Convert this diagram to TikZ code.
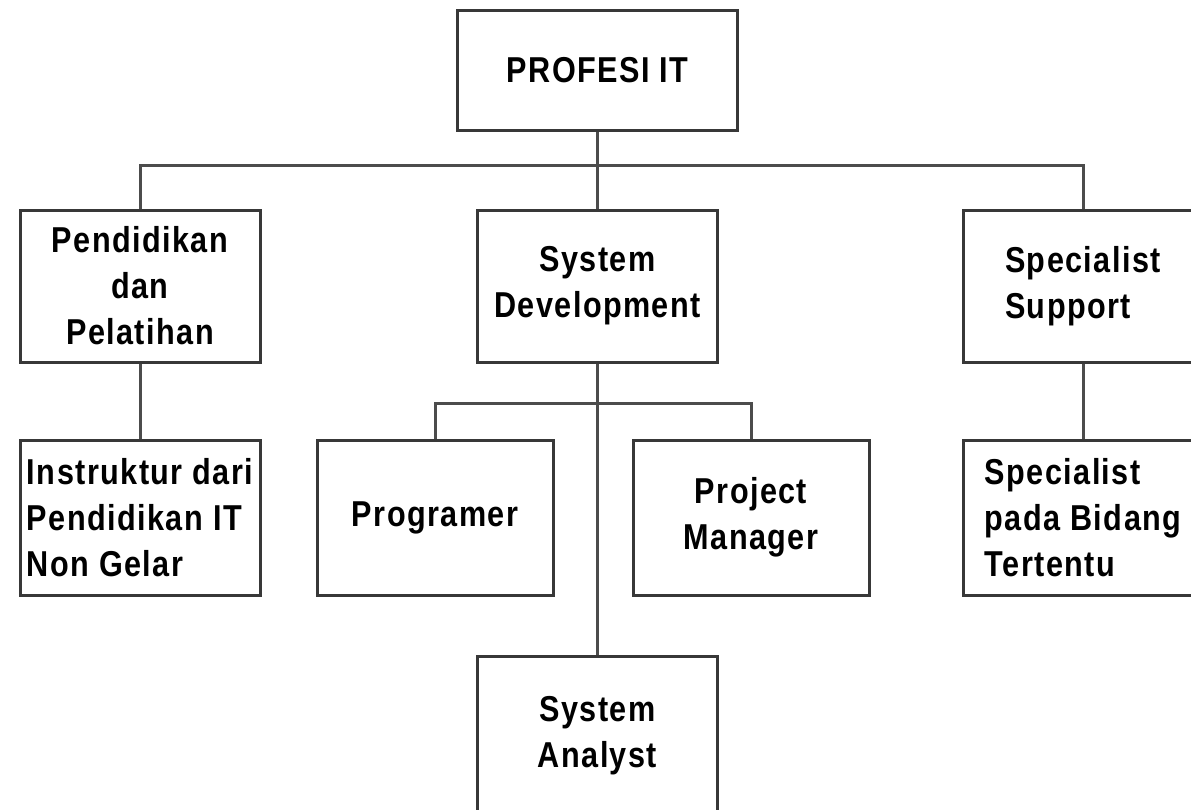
\documentclass[tikz,border=0pt]{standalone}
\usepackage{fontspec}
\setmainfont{Liberation Sans}[FakeStretch=0.85,LetterSpace=4]

\begin{document}
\begin{tikzpicture}[x=0.5pt,y=-0.5pt,line width=1.5pt]
    %
    % `unit' is used for the boxes of the chart.
    % `link' is used for the lines between them.
    \tikzstyle{unit} = [draw=black!78,fill=white,minimum width=120pt,minimum height=76pt,inner sep=2pt,font=\fontsize{18}{23}\selectfont\bfseries,align=center]
    \tikzstyle{link} = [draw=black!70]
    %
    \useasboundingbox (0,0) rectangle (1191,810);
    %
    % Top
    \node[unit,minimum width=140pt,minimum height=60pt] (profesi) at (597.5,70) {PROFESI IT};
    %
    % Row 1
    \node[unit] (pendidikan) at (140,286) {Pendidikan\\dan\\Pelatihan};
    \node[unit] (sysdev) at (597.5,286) {System\\Development};
    \node[unit,align=left] (specsup) at (1083,286) {Specialist\\Support};
    %
    % Row 2
    \node[unit,minimum height=77.5pt,align=left] (instruktur) at (140,517.5) {Instruktur dari\\Pendidikan IT\\Non Gelar};
    \node[unit,minimum width=118pt,minimum height=77.5pt] (programer) at (435,517.5) {Programer};
    \node[unit,minimum width=118pt,minimum height=77.5pt] (manager) at (751,517.5) {Project\\Manager};
    \node[unit,minimum height=77.5pt,align=left] (specpada) at (1083,517.5) {Specialist\\pada Bidang\\Tertentu};
    %
    % Row 3
    \node[unit,minimum height=80pt] (analyst) at (597.5,736) {System\\Analyst};
    %
    % Lines
    \coordinate (bus1) at (597.5,165);
    \coordinate (bus2) at (597.5,403);
    \draw[link] (profesi) -- (sysdev);
    \draw[link] (pendidikan.north) |- (bus1) -| (specsup.north);
    \draw[link] (pendidikan) -- (instruktur);
    \draw[link] (specsup) -- (specpada);
    \draw[link] (sysdev) -- (analyst);
    \draw[link] (programer.north) |- (bus2) -| (manager.north);
    %
\end{tikzpicture}
\end{document}
